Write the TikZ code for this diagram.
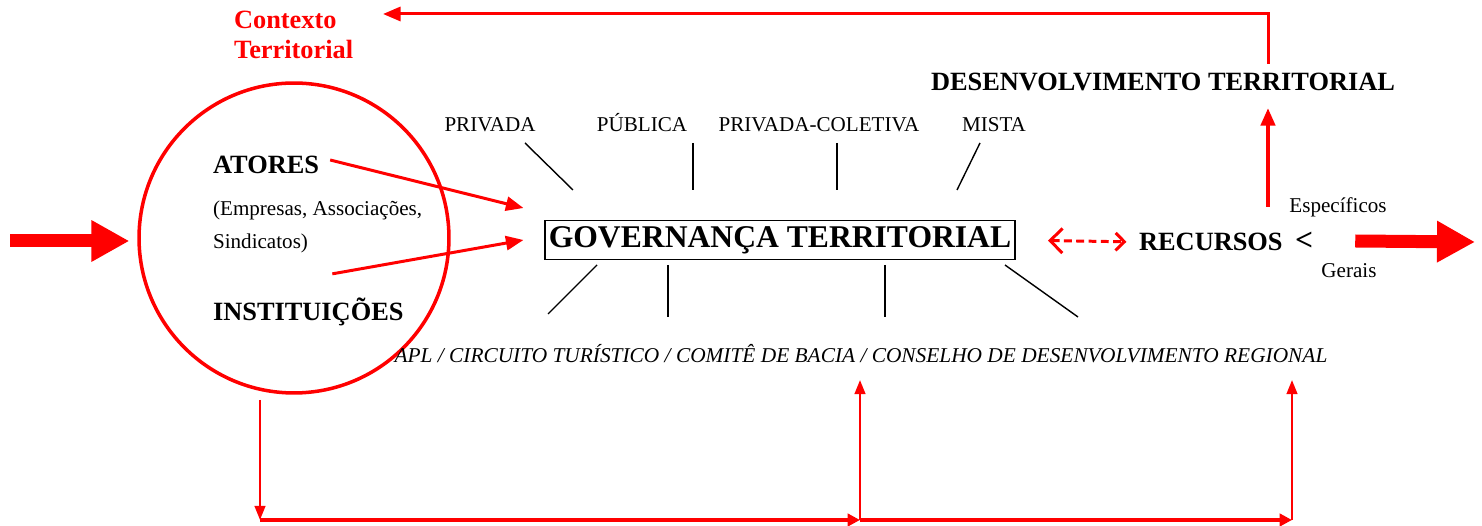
\documentclass[tikz,border=0pt]{standalone}
\usepackage{fontspec}
\setmainfont{Liberation Serif}
\usetikzlibrary{arrows.meta,calc,positioning}

\tikzset{
  heading/.style={inner sep=1pt, font=\fontsize{15}{17}\selectfont\bfseries},
  normaltext/.style={inner sep=1pt, font=\fontsize{12}{14}\selectfont},
  spoke/.style={line width=0.8pt},
  redline/.style={red, line width=1.7pt},
  redarrow/.style={redline, -{Triangle[length=10pt,width=8pt]}},
  thinarrow/.style={red, line width=1.4pt, -{Triangle[length=8pt,width=6pt]}},
  thickarrow/.style={red, line width=2.3pt, -{Triangle[length=7pt,width=7pt]}},
  bigarrow/.style={red, line width=0.26cm, -{Triangle[length=0.76cm,width=0.78cm]}},
}

\begin{document}
\begin{tikzpicture}[x=0.02cm, y=-0.02cm]
  \useasboundingbox (0,0) rectangle (1482,526);

  % actors and institutions
  \node[draw=red, line width=2pt, circle, minimum size=6.2cm] (circ) at (294,238) {};
  \node[heading, red, align=left, anchor=west] (ctx) at (232,35) {Contexto\\Territorial};
  \node[heading, anchor=west] (atores) at (211,165) {ATORES};
  \node[normaltext, anchor=west] (emp) at (211,210) {(Empresas, Associações,};
  \node[normaltext, anchor=west] (sind) at (211,243) {Sindicatos)};
  \node[heading, anchor=west] (inst) at (211,312) {INSTITUIÇÕES};

  % governance
  \node[draw, line width=0.9pt, inner xsep=2pt, minimum height=0.78cm,
        font=\fontsize{18}{20}\selectfont\bfseries] (gov) at (780,240) {GOVERNANÇA TERRITORIAL};
  \node[normaltext, anchor=base] (priv) at (490,132) {PRIVADA};
  \node[normaltext, anchor=base] (pub) at (642,132) {PÚBLICA};
  \node[normaltext, anchor=base] (privcol) at (819,132) {PRIVADA-COLETIVA};
  \node[normaltext, anchor=base] (mista) at (994,132) {MISTA};
  \node[normaltext] (apl) at (861,354) {\resizebox{18.66cm}{\height}{\itshape APL / CIRCUITO TURÍSTICO / COMITÊ DE BACIA / CONSELHO DE DESENVOLVIMENTO REGIONAL}};

  \draw[spoke] (525,143) -- (573,190);
  \draw[spoke] (693,143) -- (693,190);
  \draw[spoke] (837,143) -- (837,190);
  \draw[spoke] (980,143) -- (957,190);
  \draw[spoke] (597,265) -- (548,314);
  \draw[spoke] (668,265) -- (668,317);
  \draw[spoke] (885,265) -- (885,317);
  \draw[spoke] (1005,265) -- (1078,317);

  \draw[redarrow] ($(atores.east)+(9,-5)$) -- ($(gov.west)+(-21,-32)$);
  \draw[redarrow] ($(inst.north)+(24,-22)$) -- ($(gov.west)+(-21,0)$);

  % resources and development
  \node[heading, anchor=west] (rec) at (1137,242) {RECURSOS};
  \node[heading, font=\fontsize{18}{20}\selectfont\bfseries, anchor=west] (lt) at (1293,241) {<};
  \node[normaltext] (esp) at (1338,207) {Específicos};
  \node[normaltext] (ger) at (1349,271) {Gerais};
  \node[heading] (des) at (1163,82) {DESENVOLVIMENTO TERRITORIAL};

  \draw[red, line width=1.7pt, dash pattern=on 4.5pt off 2.5pt,
        {Straight Barb[length=7pt,width=14pt]}-{Straight Barb[length=5pt,width=10pt]},
        shorten <=18.5pt, shorten >=6pt] (gov.east) -- (rec.west);

  \coordinate (up) at (1268,207);
  \coordinate (back) at (383,14);
  \draw[redline, line width=2.3pt, -{Triangle[length=10pt,width=8pt]}] (up) -- ($(up |- des.south)+(0,15)$);
  \draw[redarrow] ($(up |- des.north)+(0,-7)$) |- (back);

  % flows in and out
  \coordinate (in) at (10,241);
  \coordinate (out) at (1475,242);
  \draw[bigarrow, shorten >=4.5pt] (in) -- (in -| circ.west);
  \draw[bigarrow] ($(lt.east)+(40,0)$) -- (out);

  % feedback at the bottom
  \coordinate (d0) at (260,400);
  \coordinate (d1) at (260,520);
  \coordinate (d2) at (860,520);
  \coordinate (d3) at (1292,520);
  \coordinate (t2) at (860,380);
  \coordinate (t3) at (1292,380);
  \draw[thinarrow] (d0) -- (d1);
  \draw[thickarrow] (d1) -- (d2);
  \draw[thickarrow] (d2) -- (d3);
  \draw[thinarrow] (d2) -- (t2);
  \draw[thinarrow] (d3) -- (t3);
\end{tikzpicture}
\end{document}
